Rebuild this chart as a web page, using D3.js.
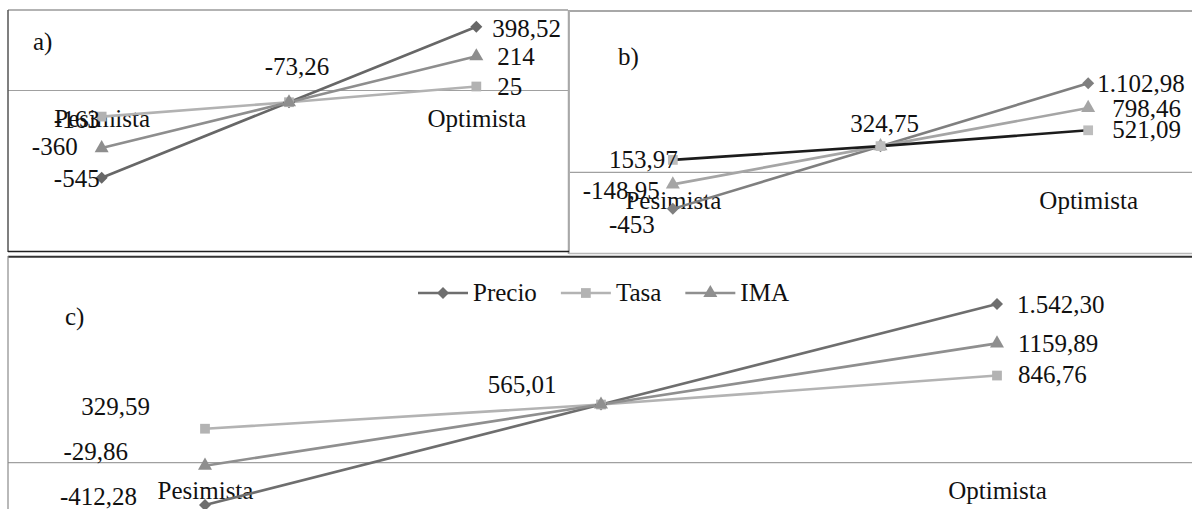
<!DOCTYPE html>
<html>
<head>
<meta charset="utf-8">
<script src="https://cdn.jsdelivr.net/npm/d3@7"></script>
<style>
  html, body { margin: 0; padding: 0; background: #fff; }
  svg text { font-family: "Liberation Serif", "Times New Roman", "DejaVu Serif", serif; }
</style>
</head>
<body>
<svg id="chart" width="1192" height="509"></svg>
<script>
// Scenario categories (the middle scenario has no axis label)
const categories = ["Pesimista", "", "Optimista"];
const seriesNames = ["Precio", "Tasa", "IMA"];

// a) values
const precioA = [-545, -73.26, 398.52];
const tasaA   = [-163, -73.26, 25];
const imaA    = [-360, -73.26, 214];
const precioALabels = ["-545", "-73,26", "398,52"];
const tasaALabels   = ["-163", "-73,26", "25"];
const imaALabels    = ["-360", "-73,26", "214"];

// b) values
const precioB = [-453, 324.75, 1102.98];
const tasaB   = [153.97, 324.75, 521.09];
const imaB    = [-148.95, 324.75, 798.46];
const precioBLabels = ["-453", "324,75", "1.102,98"];
const tasaBLabels   = ["153,97", "324,75", "521,09"];
const imaBLabels    = ["-148,95", "324,75", "798,46"];

// c) values
const precioC = [-412.28, 565.01, 1542.30];
const tasaC   = [329.59, 565.01, 846.76];
const imaC    = [-29.86, 565.01, 1159.89];
const precioCLabels = ["-412,28", "565,01", "1.542,30"];
const tasaCLabels   = ["329,59", "565,01", "846,76"];
const imaCLabels    = ["-29,86", "565,01", "1159,89"];

const svg = d3.select("#chart");
const FONT = 25;
const SERIF = "'Liberation Serif', 'Times New Roman', 'DejaVu Serif', serif";

// Marker shapes; the diamond is a square turned 45 degrees
const symbolFor = {
  Precio: { path: d3.symbol().type(d3.symbolSquare).size(72), rotate: 45 },
  Tasa:   { path: d3.symbol().type(d3.symbolSquare).size(95), rotate: 0 },
  IMA:    { path: d3.symbol().type(d3.symbolTriangle).size(85), rotate: 0 }
};

// Panel definitions: layout, scales, colours, and data label placement
const panels = [
  {
    title: "a)", titlePos: [33, 50],
    xRange: [8, 570], yDomain: [-1000, 500], yRange: [250.5, 10.5],
    series: [
      { name: "Precio", values: precioA, labels: precioALabels, line: "#676767", mark: "#676767" },
      { name: "Tasa",   values: tasaA,   labels: tasaALabels,   line: "#b2b2b2", mark: "#b2b2b2" },
      { name: "IMA",    values: imaA,    labels: imaALabels,    line: "#8e8e8e", mark: "#8e8e8e" }
    ],
    axisRange: [8, 568],
    place: [
      { s: 0, i: 0, anchor: "end", dx: -2, dy: 9 },
      { s: 2, i: 0, anchor: "end", dx: -24, dy: 7 },
      { s: 1, i: 0, anchor: "end", dx: -2, dy: 11.5 },
      { s: 0, i: 1, anchor: "middle", dx: 8, dy: -27 },
      { s: 0, i: 2, anchor: "start", dx: 16, dy: 10 },
      { s: 2, i: 2, anchor: "start", dx: 21, dy: 8.5 },
      { s: 1, i: 2, anchor: "start", dx: 21, dy: 8.5 }
    ]
  },
  {
    title: "b)", titlePos: [618, 65],
    xRange: [569, 1192], yDomain: [-1000, 2000], yRange: [253, 11],
    series: [
      { name: "Precio", values: precioB, labels: precioBLabels, line: "#7f7f7f", mark: "#7f7f7f" },
      { name: "IMA",    values: imaB,    labels: imaBLabels,    line: "#a5a5a5", mark: "#a5a5a5" },
      { name: "Tasa",   values: tasaB,   labels: tasaBLabels,   line: "#1c1c1c", mark: "#bdbdbd" }
    ],
    axisRange: [569, 1192],
    place: [
      { s: 0, i: 0, anchor: "end", dx: -18, dy: 24 },
      { s: 1, i: 0, anchor: "end", dx: -13, dy: 15 },
      { s: 2, i: 0, anchor: "end", dx: 5, dy: 8.5 },
      { s: 2, i: 1, anchor: "middle", dx: 4, dy: -14 },
      { s: 0, i: 2, anchor: "start", dx: 9, dy: 9 },
      { s: 1, i: 2, anchor: "start", dx: 24, dy: 9.5 },
      { s: 2, i: 2, anchor: "start", dx: 24, dy: 8 }
    ]
  },
  {
    title: "c)", titlePos: [65, 325],
    xRange: [7, 1195], yDomain: [-500, 2000], yRange: [514, 257],
    series: [
      { name: "Precio", values: precioC, labels: precioCLabels, line: "#6e6e6e", mark: "#6e6e6e" },
      { name: "Tasa",   values: tasaC,   labels: tasaCLabels,   line: "#b3b3b3", mark: "#b3b3b3" },
      { name: "IMA",    values: imaC,    labels: imaCLabels,    line: "#8f8f8f", mark: "#8f8f8f" }
    ],
    axisRange: [8, 1192],
    place: [
      { s: 0, i: 0, anchor: "end", dx: -68, dy: 0 },
      { s: 2, i: 0, anchor: "end", dx: -77, dy: -6 },
      { s: 1, i: 0, anchor: "end", dx: -55, dy: -14 },
      { s: 0, i: 1, anchor: "middle", dx: -79, dy: -11.5 },
      { s: 0, i: 2, anchor: "start", dx: 20, dy: 9 },
      { s: 2, i: 2, anchor: "start", dx: 21, dy: 8.6 },
      { s: 1, i: 2, anchor: "start", dx: 21, dy: 7.5 }
    ],
    legend: true
  }
];

function serifText(sel, size) {
  return sel.attr("font-family", SERIF).style("font-family", SERIF)
    .style("font-size", size + "px").attr("fill", "#111");
}

panels.forEach(p => {
  const g = svg.append("g");
  const x = d3.scalePoint().domain(categories).range(p.xRange).padding(0.5);
  const y = d3.scaleLinear().domain(p.yDomain).range(p.yRange);

  // Category axis along the zero line
  const axis = d3.axisBottom(x).tickSize(0).tickSizeOuter(0).tickPadding(19);
  const ax = g.append("g").attr("transform", `translate(0,${y(0)})`).call(axis)
    .attr("font-family", SERIF);
  ax.select(".domain")
    .attr("d", `M${p.axisRange[0]},0H${p.axisRange[1]}`)
    .attr("stroke", "#a0a0a0").attr("stroke-width", 1.2);
  serifText(ax.selectAll(".tick text"), FONT);

  // Series lines and markers
  const line = d3.line().x((d, i) => x(categories[i])).y(d => y(d));
  p.series.forEach(s => {
    g.append("path").datum(s.values)
      .attr("d", line).attr("fill", "none")
      .attr("stroke", s.line).attr("stroke-width", 2.6)
      .attr("stroke-linejoin", "round");
  });
  p.series.forEach(s => {
    const sym = symbolFor[s.name];
    g.selectAll(null).data(s.values).join("path")
      .attr("d", sym.path)
      .attr("transform", (d, i) => `translate(${x(categories[i])},${y(d)}) rotate(${sym.rotate})`)
      .attr("fill", s.mark);
  });

  // Data labels
  p.place.forEach(pl => {
    const s = p.series[pl.s];
    const v = s.values[pl.i];
    serifText(g.append("text"), FONT)
      .attr("x", x(categories[pl.i]) + pl.dx)
      .attr("y", y(v) + pl.dy)
      .attr("text-anchor", pl.anchor)
      .text(s.labels[pl.i]);
  });

  // Panel tag
  serifText(g.append("text"), FONT)
    .attr("x", p.titlePos[0]).attr("y", p.titlePos[1])
    .text(p.title);

  // Legend
  if (p.legend) {
    const lg = g.append("g").attr("transform", "translate(418,293)");
    let cx = 0;
    seriesNames.forEach(name => {
      const s = p.series.find(d => d.name === name);
      const sym = symbolFor[name];
      const item = lg.append("g").attr("transform", `translate(${cx},0)`);
      item.append("line").attr("x1", 0).attr("x2", 50).attr("y1", 0).attr("y2", 0)
        .attr("stroke", s.line).attr("stroke-width", 2.6);
      item.append("path").attr("d", sym.path)
        .attr("transform", `translate(25,0) rotate(${sym.rotate})`)
        .attr("fill", s.mark);
      const t = serifText(item.append("text"), FONT).attr("x", 55).attr("y", 8).text(name);
      cx += 55 + t.node().getComputedTextLength() + 24;
    });
  }
});

// Frames around the three panels
const frames = [
  // panel a
  { x1: 8, y1: 10, x2: 568, y2: 10, c: "#9a9a9a", w: 1.5 },
  { x1: 8, y1: 10, x2: 8, y2: 252, c: "#555", w: 1.5 },
  { x1: 568.5, y1: 10, x2: 568.5, y2: 254, c: "#a8a8a8", w: 1.5 },
  { x1: 8, y1: 251.5, x2: 569, y2: 251.5, c: "#222", w: 1.5 },
  // panel b
  { x1: 569, y1: 11, x2: 1192, y2: 11, c: "#a8a8a8", w: 2 },
  { x1: 569.5, y1: 11, x2: 569.5, y2: 253, c: "#b0b0b0", w: 1 },
  { x1: 569, y1: 253.5, x2: 1192, y2: 253.5, c: "#b8b8b8", w: 1.5 },
  // panel c
  { x1: 8, y1: 256.8, x2: 1192, y2: 256.8, c: "#333", w: 2 },
  { x1: 8, y1: 256, x2: 8, y2: 509, c: "#8a8a8a", w: 1.2 }
];
svg.append("g").selectAll("line").data(frames).join("line")
  .attr("x1", d => d.x1).attr("y1", d => d.y1)
  .attr("x2", d => d.x2).attr("y2", d => d.y2)
  .attr("stroke", d => d.c).attr("stroke-width", d => d.w);
</script>
</body>
</html>
